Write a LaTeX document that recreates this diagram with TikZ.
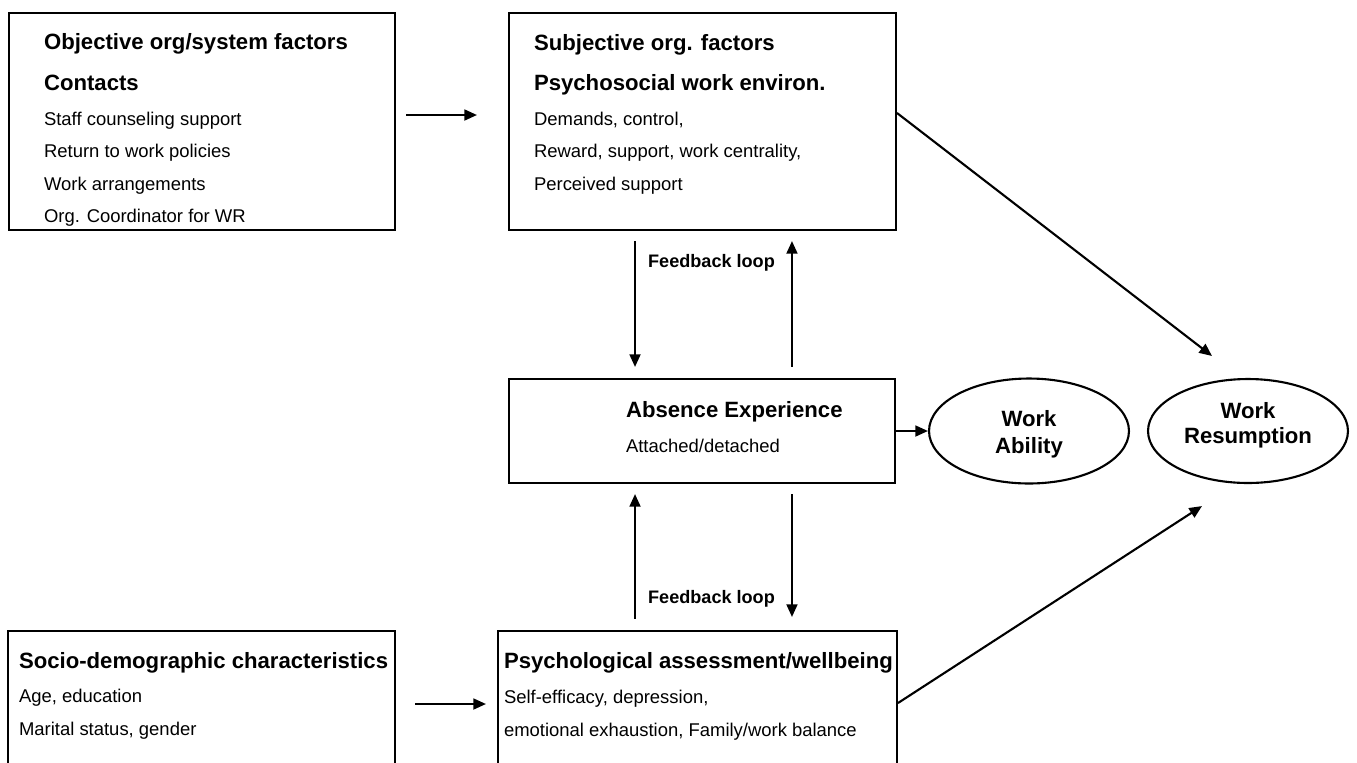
\documentclass[tikz,border=0pt]{standalone}
\usepackage{fontspec}
\setmainfont{Liberation Sans}
\usetikzlibrary{arrows.meta,shapes.geometric}

\begin{document}
\begin{tikzpicture}[x=0.02cm, y=-0.02cm, line width=1.2pt, >={Triangle[length=7.2pt,width=6.2pt]}]
        \tikzstyle{every node} = [inner sep=0pt]
        \tikzstyle{box} = [draw, rectangle]
        \tikzstyle{oval} = [draw, ellipse, minimum width=4cm, minimum height=2.1cm]
        \tikzstyle{head} = [font=\fontsize{12.6}{15}\selectfont\bfseries, anchor=base west]
        \tikzstyle{item} = [font=\fontsize{10.5}{13}\selectfont, anchor=base west]
        \tikzstyle{loop} = [font=\fontsize{10.3}{12}\selectfont\bfseries, anchor=base]
        \useasboundingbox (0,0) rectangle (1357,762);
        \clip (0,0) rectangle (1357,762);
        % boxes
        \node[box, minimum width=7.72cm, minimum height=4.34cm] (obj) at (202,121.5) {};
        \node[box, minimum width=7.74cm, minimum height=4.34cm] (subj) at (702.5,121.5) {};
        \node[box, minimum width=7.72cm, minimum height=2.08cm] (absence) at (702,431) {};
        \node[box, minimum width=7.74cm, minimum height=3.38cm] (socio) at (201.5,715.5) {};
        \node[box, minimum width=7.98cm, minimum height=3.38cm] (psych) at (697.5,715.5) {};
        \node[oval] (ability) at (1029,431) {};
        \node[oval, minimum height=2.08cm] (resume) at (1248,431) {};
        % texts
        \node[head] (obj-h1) at (43,49) {Objective org/system factors};
        \node[head] (obj-h2) at (43,90) {Contacts};
        \foreach \txt [count=\i] in {Staff counseling support, Return to work policies, Work arrangements, Org. Coordinator for WR}
            \node[item] (obj-\i) at (43,92.5+32.5*\i) {\txt};
        \node[head] (subj-h1) at (533,50) {Subjective org. factors};
        \node[head] (subj-h2) at (533,90) {Psychosocial work environ.};
        \foreach \txt [count=\i] in {{Demands, control,}, {Reward, support, work centrality,}, Perceived support}
            \node[item] (subj-\i) at (533,92.5+32.5*\i) {\txt};
        \node[head] (absence-h) at (625,417) {Absence Experience};
        \node[item] (absence-1) at (625,452) {Attached/detached};
        \node[head] (socio-h) at (18,668) {Socio-demographic characteristics};
        \foreach \txt [count=\i] in {{Age, education}, {Marital status, gender}}
            \node[item] (socio-\i) at (18,669+33*\i) {\txt};
        \node[head] (psych-h) at (503,668) {Psychological assessment/wellbeing};
        \foreach \txt [count=\i] in {{Self-efficacy, depression,}, {emotional exhaustion, Family/work balance}}
            \node[item] (psych-\i) at (503,670+33*\i) {\txt};
        \node[align=center, font=\fontsize{12.6}{15.3}\selectfont\bfseries] (ability-t) at ([yshift=-0.06cm]ability) {Work\\Ability};
        \node[align=center, font=\fontsize{12.6}{14.2}\selectfont\bfseries] (resume-t) at ([yshift=0.12cm]resume) {Work\\Resumption};
        % feedback loops
        \coordinate (fl) at ([xshift=-1.34cm]absence.north);
        \coordinate (fr) at ([xshift=1.8cm]absence.north);
        \node[loop] (loop-up) at (711.5,267) {Feedback loop};
        \node[loop] (loop-down) at (711.5,603) {Feedback loop};
        \draw[->, shorten <=0.2cm, shorten >=0.22cm] (fl |- subj.south) -- (fl);
        \draw[->, shorten <=0.22cm, shorten >=0.2cm] (fr) -- (fr |- subj.south);
        \draw[->, shorten <=0.22cm, shorten >=0.2cm] (fl |- psych.north) -- (fl |- absence.south);
        \draw[->, shorten <=0.2cm, shorten >=0.26cm] (fr |- absence.south) -- (fr |- psych.north);
        % other arrows
        \draw[->, shorten <=0.2cm, shorten >=0.62cm] ([yshift=0.13cm]obj.east) -- ([yshift=0.13cm]obj.east -| subj.west);
        \draw[->, shorten <=0.38cm, shorten >=0.22cm] ([yshift=0.23cm]socio.east) -- ([yshift=0.23cm]socio.east -| psych.west);
        \draw[->] (absence.east) -- (ability.west);
        \draw[->] ([yshift=0.17cm]subj.east) -- ([shift={(-36,-22)}]resume.north);
        \draw[->] ([yshift=0.25cm]psych.east) -- ([shift={(-46,22)}]resume.south);
\end{tikzpicture}
\end{document}
